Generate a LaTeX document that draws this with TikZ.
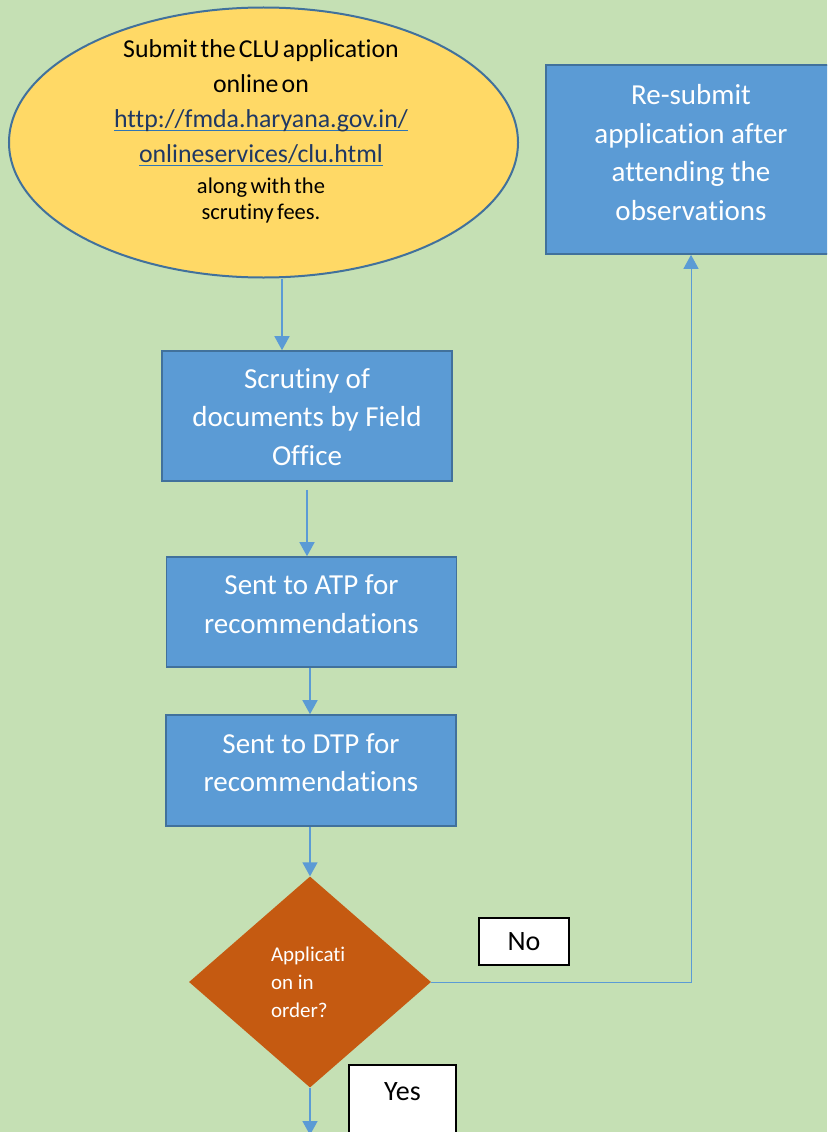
\documentclass[tikz,border=0pt]{standalone}
\usepackage{fontspec}
\setmainfont{Carlito}[Ligatures={NoCommon}]
\usetikzlibrary{shapes.geometric,arrows.meta,calc}
\definecolor{bgcol}{HTML}{C5E0B4}
\definecolor{boxfill}{HTML}{5B9BD5}
\definecolor{boxline}{HTML}{41719C}
\definecolor{ellfill}{HTML}{FFD966}
\definecolor{decfill}{HTML}{C55A11}
\definecolor{conncol}{HTML}{5B9BD5}
\definecolor{urltext}{HTML}{1F3864}
\definecolor{urlline}{HTML}{2E75B6}
\newcommand{\ulnk}[1]{\leavevmode\setbox0\hbox{#1}\rlap{\color{urlline}\rule[-4pt]{\wd0}{1.2pt}}{\color{urltext}\box0}}
\newcommand{\liftbox}[3]{\raisebox{#1}[\height][\depth]{\parbox{#2}{\centering #3}}}
\begin{document}
\begin{tikzpicture}[x=1pt,y=-1pt,
  procbox/.style={draw=boxline,line width=1.6pt,fill=boxfill,minimum width=290pt,inner sep=0pt,text=white,font=\fontsize{29}{38.5}\selectfont},
  link/.style={draw=conncol,line width=1.5pt,-{Triangle[width=15pt,length=14pt]}},
  lbl/.style={draw=black,line width=1.5pt,fill=white,inner sep=0pt,font=\fontsize{28}{34}\selectfont}]
\useasboundingbox (0,0) rectangle (827,1132);
\clip (0,0) rectangle (827,1132);
\fill[bgcol] (0,0) rectangle (827,1132);
% start ellipse
\node[ellipse,draw=boxline,line width=2pt,fill=ellfill,minimum width=509pt,minimum height=270pt,inner sep=0pt] (start) at (263.5,142.5) {};
\node[text width=330pt,align=center,inner sep=0pt,anchor=north] (starttxt) at (261,39)
 {{\fontsize{25.8}{35}\selectfont Submit the CLU application\\ online on\\ \ulnk{http://fmda.haryana.gov.in/}\\ \ulnk{onlineservices/clu.html}\par}
  {\fontsize{22.5}{26}\selectfont\vspace{5pt}along with the\\ scrutiny fees.\par}};
% process boxes
\node[procbox,minimum height=130pt] (scr) at (307,416) {\liftbox{-1pt}{285pt}{Scrutiny of\\ documents by Field\\ Office}};
\node[procbox,minimum height=110pt] (atp) at (311.5,612) {\liftbox{8pt}{285pt}{Sent to ATP for\\ recommendations}};
\node[procbox,minimum height=111pt] (dtp) at (311,770.5) {\liftbox{8pt}{285pt}{Sent to DTP for\\ recommendations}};
\node[procbox,minimum height=189pt] (resub) at (691,159.5) {\liftbox{7pt}{285pt}{Re-submit\\ application after\\ attending the\\ observations}};
% decision
\node[diamond,fill=decfill,minimum width=242pt,minimum height=211pt,inner sep=0pt,text=white,font=\fontsize{21}{28}\selectfont] (dec) at (310,982)
 {\parbox{78pt}{\raggedright Applicati\\ on in\\ order?}};
% labels
\node[lbl,minimum width=90pt,minimum height=47pt] (no) at (524,941.5) {No};
\node[lbl,minimum width=107pt,minimum height=90pt] (yes) at (402.5,1110) {\raisebox{18pt}[\height][\depth]{Yes}};
% connectors
\coordinate (a1) at ([xshift=18.5pt]start.south);
\draw[link] (a1) -- (a1 |- scr.north);
\coordinate (a2) at ([yshift=-8pt]scr.south);
\draw[link] (a2) -- (a2 |- atp.north);
\draw[link] (dec.north |- atp.south) -- (dec.north |- dtp.north);
\draw[link] (dec.north |- dtp.south) -- (dec.north);
\draw[link,line width=1pt] (dec.east) -| (resub.south);
\coordinate (endpt) at (310,1135);
\draw[link] (dec.south) -- (endpt);
\end{tikzpicture}
\end{document}
